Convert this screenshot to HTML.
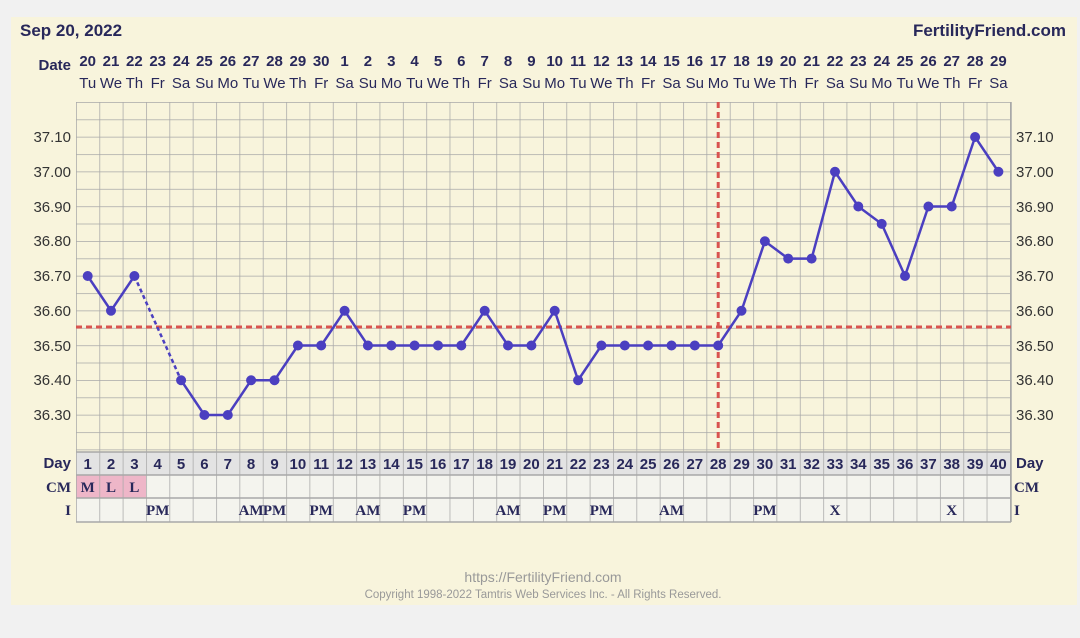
<!DOCTYPE html>
<html><head><meta charset="utf-8"><style>
html,body{margin:0;padding:0;background:#f1f1f1;}
svg{display:block;font-family:"Liberation Sans",sans-serif;}
.d{font-weight:bold;font-size:15px;fill:#28285a;text-anchor:middle}
.w{font-size:15px;fill:#28285a;text-anchor:middle}
.t{font-size:15px;fill:#333;}
.n{font-weight:bold;font-size:15px;fill:#28285a;text-anchor:middle}
.s{font-family:"Liberation Serif",serif;font-weight:bold;font-size:15px;fill:#28285a;text-anchor:middle}
</style></head><body>
<svg width="1080" height="638" viewBox="0 0 1080 638">
<defs>
<pattern id="g" x="76" y="102" width="23.35" height="17.375" patternUnits="userSpaceOnUse">
<path d="M0 0H23.35M0 0V17.375" stroke="#a8a8a8" stroke-width="1.5" fill="none"/>
</pattern>
<pattern id="c" x="76" y="452" width="23.35" height="70" patternUnits="userSpaceOnUse">
<path d="M0 0V70" stroke="#a8a8a8" stroke-width="1.5" fill="none"/>
</pattern>
</defs>
<rect x="11" y="17" width="1066" height="588" fill="#f8f4dc"/>
<text x="20" y="36" style="font-weight:bold;font-size:17px;fill:#28285a">Sep 20, 2022</text>
<text x="1066" y="36" text-anchor="end" style="font-weight:bold;font-size:17px;fill:#28285a">FertilityFriend.com</text>
<text x="71" y="70" text-anchor="end" style="font-weight:bold;font-size:15px;fill:#28285a">Date</text>
<rect x="76" y="102" width="935" height="350" fill="#f8f4dc"/>
<rect x="76" y="102" width="935" height="350" fill="url(#g)"/>
<line x1="1011" y1="102" x2="1011" y2="452" stroke="#a8a8a8" stroke-width="1.5"/>
<g class="t" text-anchor="end">
<text x="71" y="142">37.10</text><text x="71" y="177">37.00</text><text x="71" y="212">36.90</text><text x="71" y="246">36.80</text><text x="71" y="281">36.70</text><text x="71" y="316">36.60</text><text x="71" y="351">36.50</text><text x="71" y="385">36.40</text><text x="71" y="420">36.30</text>
</g>
<g class="t">
<text x="1016" y="142">37.10</text><text x="1016" y="177">37.00</text><text x="1016" y="212">36.90</text><text x="1016" y="246">36.80</text><text x="1016" y="281">36.70</text><text x="1016" y="316">36.60</text><text x="1016" y="351">36.50</text><text x="1016" y="385">36.40</text><text x="1016" y="420">36.30</text>
</g>
<g class="d">
<text x="87.7" y="66">20</text><text x="111" y="66">21</text><text x="134.4" y="66">22</text><text x="157.7" y="66">23</text><text x="181.1" y="66">24</text><text x="204.4" y="66">25</text><text x="227.8" y="66">26</text><text x="251.1" y="66">27</text><text x="274.5" y="66">28</text><text x="297.9" y="66">29</text><text x="321.2" y="66">30</text><text x="344.6" y="66">1</text><text x="367.9" y="66">2</text><text x="391.3" y="66">3</text><text x="414.6" y="66">4</text><text x="438" y="66">5</text><text x="461.3" y="66">6</text><text x="484.7" y="66">7</text><text x="508" y="66">8</text><text x="531.4" y="66">9</text><text x="554.7" y="66">10</text><text x="578.1" y="66">11</text><text x="601.4" y="66">12</text><text x="624.8" y="66">13</text><text x="648.1" y="66">14</text><text x="671.5" y="66">15</text><text x="694.8" y="66">16</text><text x="718.2" y="66">17</text><text x="741.5" y="66">18</text><text x="764.9" y="66">19</text><text x="788.2" y="66">20</text><text x="811.6" y="66">21</text><text x="835" y="66">22</text><text x="858.3" y="66">23</text><text x="881.7" y="66">24</text><text x="905" y="66">25</text><text x="928.4" y="66">26</text><text x="951.7" y="66">27</text><text x="975.1" y="66">28</text><text x="998.4" y="66">29</text>
</g>
<g class="w">
<text x="87.7" y="88">Tu</text><text x="111" y="88">We</text><text x="134.4" y="88">Th</text><text x="157.7" y="88">Fr</text><text x="181.1" y="88">Sa</text><text x="204.4" y="88">Su</text><text x="227.8" y="88">Mo</text><text x="251.1" y="88">Tu</text><text x="274.5" y="88">We</text><text x="297.9" y="88">Th</text><text x="321.2" y="88">Fr</text><text x="344.6" y="88">Sa</text><text x="367.9" y="88">Su</text><text x="391.3" y="88">Mo</text><text x="414.6" y="88">Tu</text><text x="438" y="88">We</text><text x="461.3" y="88">Th</text><text x="484.7" y="88">Fr</text><text x="508" y="88">Sa</text><text x="531.4" y="88">Su</text><text x="554.7" y="88">Mo</text><text x="578.1" y="88">Tu</text><text x="601.4" y="88">We</text><text x="624.8" y="88">Th</text><text x="648.1" y="88">Fr</text><text x="671.5" y="88">Sa</text><text x="694.8" y="88">Su</text><text x="718.2" y="88">Mo</text><text x="741.5" y="88">Tu</text><text x="764.9" y="88">We</text><text x="788.2" y="88">Th</text><text x="811.6" y="88">Fr</text><text x="835" y="88">Sa</text><text x="858.3" y="88">Su</text><text x="881.7" y="88">Mo</text><text x="905" y="88">Tu</text><text x="928.4" y="88">We</text><text x="951.7" y="88">Th</text><text x="975.1" y="88">Fr</text><text x="998.4" y="88">Sa</text>
</g>
<!-- bottom table -->
<rect x="76" y="452" width="935" height="23" fill="#e3e3e3"/>
<rect x="76" y="475" width="935" height="47" fill="#f4f4ee"/>
<rect x="76" y="475" width="70" height="23" fill="#eeb6c8"/>
<rect x="76" y="452" width="935" height="70" fill="url(#c)"/>
<path d="M76 452H1011M76 475H1011M76 498H1011M76 522H1011M1011 452V522" stroke="#a8a8a8" stroke-width="1.5"/>
<text x="71" y="468" text-anchor="end" style="font-weight:bold;font-size:15px;fill:#28285a">Day</text>
<text x="71" y="492" text-anchor="end" class="s" style="text-anchor:end">CM</text>
<text x="71" y="515" text-anchor="end" class="s" style="text-anchor:end">I</text>
<text x="1016" y="468" style="font-weight:bold;font-size:15px;fill:#28285a">Day</text>
<text x="1014" y="492" class="s" style="text-anchor:start">CM</text>
<text x="1014" y="515" class="s" style="text-anchor:start">I</text>
<g class="n">
<text x="87.7" y="469">1</text><text x="111" y="469">2</text><text x="134.4" y="469">3</text><text x="157.7" y="469">4</text><text x="181.1" y="469">5</text><text x="204.4" y="469">6</text><text x="227.8" y="469">7</text><text x="251.1" y="469">8</text><text x="274.5" y="469">9</text><text x="297.9" y="469">10</text><text x="321.2" y="469">11</text><text x="344.6" y="469">12</text><text x="367.9" y="469">13</text><text x="391.3" y="469">14</text><text x="414.6" y="469">15</text><text x="438" y="469">16</text><text x="461.3" y="469">17</text><text x="484.7" y="469">18</text><text x="508" y="469">19</text><text x="531.4" y="469">20</text><text x="554.7" y="469">21</text><text x="578.1" y="469">22</text><text x="601.4" y="469">23</text><text x="624.8" y="469">24</text><text x="648.1" y="469">25</text><text x="671.5" y="469">26</text><text x="694.8" y="469">27</text><text x="718.2" y="469">28</text><text x="741.5" y="469">29</text><text x="764.9" y="469">30</text><text x="788.2" y="469">31</text><text x="811.6" y="469">32</text><text x="835" y="469">33</text><text x="858.3" y="469">34</text><text x="881.7" y="469">35</text><text x="905" y="469">36</text><text x="928.4" y="469">37</text><text x="951.7" y="469">38</text><text x="975.1" y="469">39</text><text x="998.4" y="469">40</text>
</g>
<g class="s">
<text x="87.7" y="492">M</text><text x="111" y="492">L</text><text x="134.4" y="492">L</text>
<text x="157.7" y="515">PM</text><text x="251.1" y="515">AM</text><text x="274.5" y="515">PM</text><text x="321.2" y="515">PM</text><text x="367.9" y="515">AM</text><text x="414.6" y="515">PM</text><text x="508" y="515">AM</text><text x="554.7" y="515">PM</text><text x="601.4" y="515">PM</text><text x="671.5" y="515">AM</text><text x="764.9" y="515">PM</text><text x="835" y="515">X</text><text x="951.7" y="515">X</text>
</g>
<!-- coverline & ovulation -->
<line x1="76" y1="327" x2="1011" y2="327" stroke="#d9534f" stroke-width="3" stroke-dasharray="6,4"/>
<line x1="718.2" y1="102" x2="718.2" y2="452" stroke="#d9534f" stroke-width="3" stroke-dasharray="6,4"/>
<!-- data -->
<g stroke="#4b3fc0" stroke-width="2.5" fill="none">
<polyline points="87.7,276 111,310.75 134.4,276"/>
<line x1="134.4" y1="276" x2="181.1" y2="380.25" stroke-dasharray="4,3"/>
<polyline points="181.1,380.25 204.4,415 227.8,415 251.1,380.25 274.5,380.25 297.9,345.5 321.2,345.5 344.6,310.75 367.9,345.5 391.3,345.5 414.6,345.5 438,345.5 461.3,345.5 484.7,310.75 508,345.5 531.4,345.5 554.7,310.75 578.1,380.25 601.4,345.5 624.8,345.5 648.1,345.5 671.5,345.5 694.8,345.5 718.2,345.5 741.5,310.75 764.9,241.25 788.2,258.6 811.6,258.6 835,171.75 858.3,206.5 881.7,223.9 905,276 928.4,206.5 951.7,206.5 975.1,137 998.4,171.75"/>
</g>
<g fill="#4b3fc0">
<circle cx="87.7" cy="276" r="5"/><circle cx="111" cy="310.75" r="5"/><circle cx="134.4" cy="276" r="5"/><circle cx="181.1" cy="380.25" r="5"/><circle cx="204.4" cy="415" r="5"/><circle cx="227.8" cy="415" r="5"/><circle cx="251.1" cy="380.25" r="5"/><circle cx="274.5" cy="380.25" r="5"/><circle cx="297.9" cy="345.5" r="5"/><circle cx="321.2" cy="345.5" r="5"/><circle cx="344.6" cy="310.75" r="5"/><circle cx="367.9" cy="345.5" r="5"/><circle cx="391.3" cy="345.5" r="5"/><circle cx="414.6" cy="345.5" r="5"/><circle cx="438" cy="345.5" r="5"/><circle cx="461.3" cy="345.5" r="5"/><circle cx="484.7" cy="310.75" r="5"/><circle cx="508" cy="345.5" r="5"/><circle cx="531.4" cy="345.5" r="5"/><circle cx="554.7" cy="310.75" r="5"/><circle cx="578.1" cy="380.25" r="5"/><circle cx="601.4" cy="345.5" r="5"/><circle cx="624.8" cy="345.5" r="5"/><circle cx="648.1" cy="345.5" r="5"/><circle cx="671.5" cy="345.5" r="5"/><circle cx="694.8" cy="345.5" r="5"/><circle cx="718.2" cy="345.5" r="5"/><circle cx="741.5" cy="310.75" r="5"/><circle cx="764.9" cy="241.25" r="5"/><circle cx="788.2" cy="258.6" r="5"/><circle cx="811.6" cy="258.6" r="5"/><circle cx="835" cy="171.75" r="5"/><circle cx="858.3" cy="206.5" r="5"/><circle cx="881.7" cy="223.9" r="5"/><circle cx="905" cy="276" r="5"/><circle cx="928.4" cy="206.5" r="5"/><circle cx="951.7" cy="206.5" r="5"/><circle cx="975.1" cy="137" r="5"/><circle cx="998.4" cy="171.75" r="5"/>
</g>
<text x="543" y="582" text-anchor="middle" style="font-size:14px;fill:#999">https://FertilityFriend.com</text>
<text x="543" y="598" text-anchor="middle" style="font-size:11.5px;fill:#999">Copyright 1998-2022 Tamtris Web Services Inc. - All Rights Reserved.</text>
</svg>
</body></html>
